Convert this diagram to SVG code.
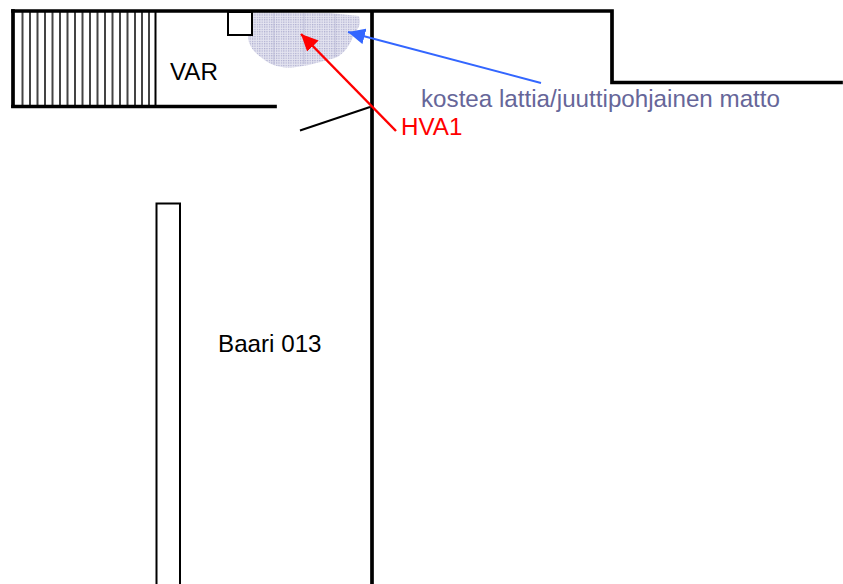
<svg xmlns="http://www.w3.org/2000/svg" width="843" height="584" viewBox="0 0 843 584">
<style>
.w{fill:none;stroke:#000;stroke-width:3.7;stroke-linecap:square;stroke-linejoin:miter}
.t{stroke:#000;fill:none;stroke-width:2}
.s{stroke:#444;stroke-width:2}
.k{stroke:#a9a9cd;stroke-width:1;opacity:.6}
text{font-family:"Liberation Sans",Arial,sans-serif;font-size:24.2px}
</style>
<defs>
<pattern id="dots" width="2.4" height="2.4" patternUnits="userSpaceOnUse">
<rect width="2.4" height="2.4" fill="#e4e4f0"/>
<rect width="1.2" height="1.2" fill="#a9a9cd"/>
</pattern>
<marker id="ar" markerUnits="userSpaceOnUse" markerWidth="18" markerHeight="16" refX="17" refY="8" orient="auto"><path d="M0 0L17 8L0 16z" fill="#f00"/></marker>
<marker id="ab" markerUnits="userSpaceOnUse" markerWidth="18" markerHeight="16" refX="17" refY="8" orient="auto"><path d="M0 0L17 8L0 16z" fill="#36f"/></marker>
</defs>
<rect width="843" height="584" fill="#fff"/>
<g id="damp-area"><path d="M252 12L330 13L359 16C361 22 360 27 355 32C351 43 345 54 335 58C322 61 310 66 292 67.500C280 68 270 65 262 58C253 52 249 45 248 38Z" fill="url(#dots)"/>
<path class="k" d="M274 13V65M304 13V64M335 14V57"/></g>
<g id="stairs">
<path class="s" d="M22.500 11V106M30 11V106M37.500 11V106M45 11V106M52.500 11V106M60 11V106M67.500 11V106M75 11V106M82.500 11V106M90 11V106M97.500 11V106M105 11V106M112.500 11V106M120 11V106M127.500 11V106M135 11V106M142 11V106M149 11V106"/>
<path class="w" d="M13 106V11"/>
<path class="t" d="M155.500 11V106"/>
</g>
<g id="walls">
<path class="w" d="M13 11H612V82.500H841"/>
<path class="w" d="M13 106.500H275"/>
<path class="w" d="M372 12V584"/>
<path class="t" d="M300 130.500L370 107"/>
</g>
<g id="column"><rect x="228" y="12" width="24" height="23" fill="#fff" stroke="#000" stroke-width="2"/></g>
<g id="bar"><path class="t" d="M156.500 584V203.500H180V584"/></g>
<g id="connectors">
<line x1="396" y1="131" x2="301" y2="34" stroke="#f00" stroke-width="2.500" marker-end="url(#ar)"/>
<line x1="541" y1="83" x2="348" y2="32" stroke="#36f" stroke-width="2" marker-end="url(#ab)"/>
</g>
<g id="labels">
<text x="170" y="80" fill="#000">VAR</text>
<text x="218" y="352" fill="#000">Baari 013</text>
<text x="401" y="135" fill="#f00">HVA1</text>
<text x="421" y="107" fill="#666699">kostea lattia/juuttipohjainen matto</text>
</g>
</svg>
